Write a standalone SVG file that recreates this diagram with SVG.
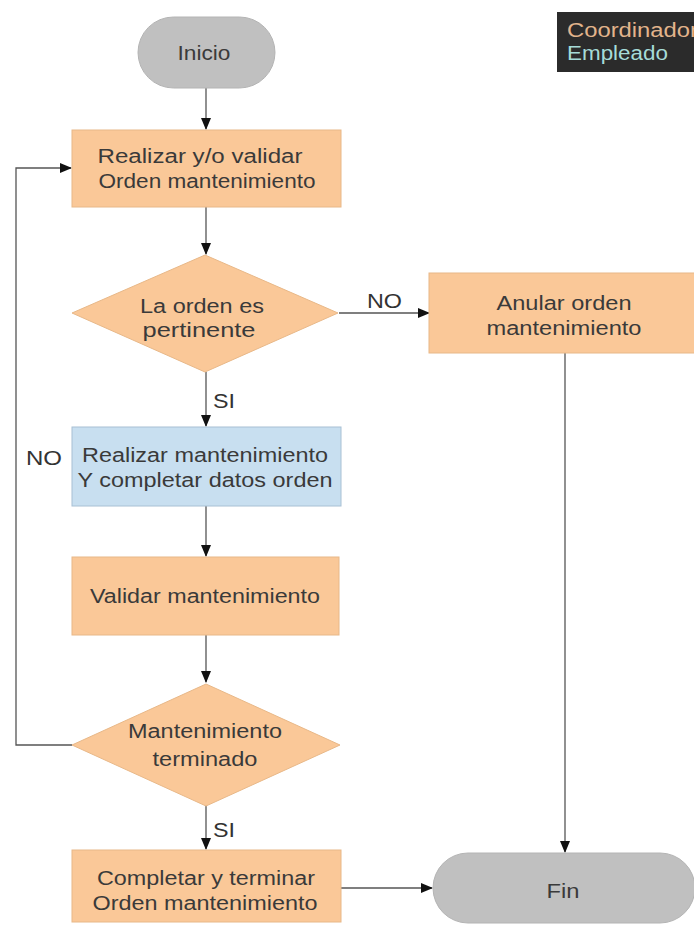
<svg xmlns="http://www.w3.org/2000/svg" width="694" height="925" viewBox="0 0 694 925">
<defs>
<marker id="ah" markerWidth="12" markerHeight="10" refX="11" refY="5" orient="auto" markerUnits="userSpaceOnUse">
<path d="M0,0 L12,5 L0,10 z" fill="#111"/>
</marker>
<style>
.t{font-family:"Liberation Sans",Arial,sans-serif;font-size:20px;fill:#3a3a3a;text-anchor:middle}
.lbl{font-family:"Liberation Sans",Arial,sans-serif;font-size:20px;fill:#333}
.lg{font-family:"Liberation Sans",Arial,sans-serif;font-size:20px}
.or{fill:#fac898;stroke:#e8b888;stroke-width:1}
.bl{fill:#c8dff0;stroke:#a8c0d4;stroke-width:1}
.gr{fill:#c0c0c0;stroke:#b4b4b4;stroke-width:1}
.c{fill:none;stroke:#555;stroke-width:1.3}
</style>
</defs>
<rect width="694" height="925" fill="#fff"/>
<g id="legend">
<rect x="557" y="12" width="137" height="60" fill="#2b2b2b"/>
<text class="lg" x="567" y="37" fill="#e2b48c" textLength="131" lengthAdjust="spacingAndGlyphs">Coordinador</text>
<text class="lg" x="567" y="60" fill="#a6dcd8" textLength="101" lengthAdjust="spacingAndGlyphs">Empleado</text>
</g>
<g id="connectors">
<line class="c" x1="206" y1="88" x2="206" y2="129" marker-end="url(#ah)"/>
<line class="c" x1="206" y1="207" x2="206" y2="254" marker-end="url(#ah)"/>
<line class="c" x1="339" y1="313" x2="429" y2="313" marker-end="url(#ah)"/>
<line class="c" x1="206" y1="372" x2="206" y2="426" marker-end="url(#ah)"/>
<line class="c" x1="206" y1="506" x2="206" y2="556" marker-end="url(#ah)"/>
<line class="c" x1="206" y1="635" x2="206" y2="682" marker-end="url(#ah)"/>
<polyline class="c" points="72,745 16,745 16,168 71,168" marker-end="url(#ah)"/>
<line class="c" x1="206" y1="805" x2="206" y2="849" marker-end="url(#ah)"/>
<line class="c" x1="565" y1="353" x2="565" y2="852" marker-end="url(#ah)"/>
<line class="c" x1="341" y1="888" x2="432" y2="888" marker-end="url(#ah)"/>
<text class="lbl" x="367" y="308" textLength="35" lengthAdjust="spacingAndGlyphs">NO</text>
<text class="lbl" x="213" y="408" textLength="22" lengthAdjust="spacingAndGlyphs">SI</text>
<text class="lbl" x="26" y="465" textLength="36" lengthAdjust="spacingAndGlyphs">NO</text>
<text class="lbl" x="213" y="837" textLength="22" lengthAdjust="spacingAndGlyphs">SI</text>
</g>
<g id="inicio">
<rect class="gr" x="138" y="17" width="137" height="71" rx="35.5"/>
<text class="t" x="204" y="60" textLength="53" lengthAdjust="spacingAndGlyphs">Inicio</text>
</g>
<g id="realizar_validar">
<rect class="or" x="72" y="130" width="269" height="77"/>
<text class="t" x="200" y="163" textLength="205" lengthAdjust="spacingAndGlyphs">Realizar y/o validar</text>
<text class="t" x="207" y="188" textLength="217" lengthAdjust="spacingAndGlyphs">Orden mantenimiento</text>
</g>
<g id="pertinente">
<polygon class="or" points="205,255 338,313 205,372 72,313"/>
<text class="t" x="202" y="313" textLength="124" lengthAdjust="spacingAndGlyphs">La orden es</text>
<text class="t" x="199" y="337" textLength="113" lengthAdjust="spacingAndGlyphs">pertinente</text>
</g>
<g id="anular">
<rect class="or" x="429" y="273" width="270" height="80"/>
<text class="t" x="564" y="310" textLength="135" lengthAdjust="spacingAndGlyphs">Anular orden</text>
<text class="t" x="564" y="335" textLength="155" lengthAdjust="spacingAndGlyphs">mantenimiento</text>
</g>
<g id="realizar_mant">
<rect class="bl" x="72" y="427" width="269" height="79"/>
<text class="t" x="205" y="462" textLength="246" lengthAdjust="spacingAndGlyphs">Realizar mantenimiento</text>
<text class="t" x="205" y="487" textLength="255" lengthAdjust="spacingAndGlyphs">Y completar datos orden</text>
</g>
<g id="validar">
<rect class="or" x="72" y="557" width="267" height="78"/>
<text class="t" x="205" y="603" textLength="230" lengthAdjust="spacingAndGlyphs">Validar mantenimiento</text>
</g>
<g id="terminado">
<polygon class="or" points="206,684 340,745 206,806 72,745"/>
<text class="t" x="205" y="738" textLength="154" lengthAdjust="spacingAndGlyphs">Mantenimiento</text>
<text class="t" x="205" y="766" textLength="105" lengthAdjust="spacingAndGlyphs">terminado</text>
</g>
<g id="completar">
<rect class="or" x="72" y="850" width="269" height="72"/>
<text class="t" x="206" y="885" textLength="218" lengthAdjust="spacingAndGlyphs">Completar y terminar</text>
<text class="t" x="205" y="910" textLength="225" lengthAdjust="spacingAndGlyphs">Orden mantenimiento</text>
</g>
<g id="fin">
<rect class="gr" x="433" y="853" width="262" height="70" rx="35"/>
<text class="t" x="563" y="898" textLength="33" lengthAdjust="spacingAndGlyphs">Fin</text>
</g>
</svg>
